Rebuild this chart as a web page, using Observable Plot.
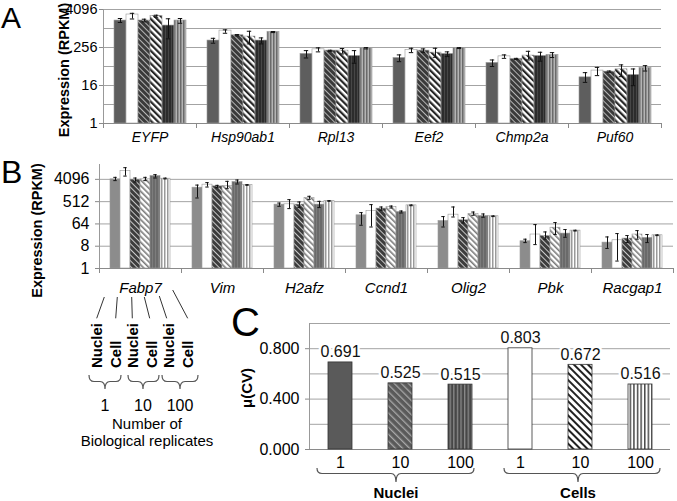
<!DOCTYPE html>
<html><head><meta charset="utf-8">
<script src="https://cdn.jsdelivr.net/npm/d3@7"></script>
<script src="https://cdn.jsdelivr.net/npm/@observablehq/plot@0.6"></script>
<style>
html,body{margin:0;padding:0;background:#fff;}
#fig{position:relative;width:677px;height:501px;overflow:hidden;font-family:"Liberation Sans",Arial,sans-serif;}
#fig > svg{position:absolute;}
</style></head><body><div id="fig"></div>
<script>
// ---------- DATA ----------
const series = ["Nuclei 1", "Cell 1", "Nuclei 10", "Cell 10", "Nuclei 100", "Cell 100"];

// Panel A
const genesA = ["EYFP", "Hsp90ab1", "Rpl13", "Eef2", "Chmp2a", "Puf60"];
const valuesA = [
  [1830, 2840, 1830, 2570, 1270, 1830],
  [425, 879, 626, 568, 425, 798],
  [160, 224, 204, 204, 138, 242],
  [119, 215, 204, 176, 160, 249],
  [83, 134, 111, 142, 138, 149],
  [29, 47.5, 44, 52, 34.5, 57.7]
];
const lowA = [
  [1590, 2050, 1660, 2340, 480, 1500],
  [350, 724, 596, 333, 333, 760],
  [119, 186, 194, 160, 81, 231],
  [91, 176, 181, 125, 132, 237],
  [64, 116, 106, 103, 94, 123],
  [20.1, 32.9, 42, 30.5, 15.8, 46]
];
const highA = [
  [2120, 3100, 2020, 2700, 2080, 2120],
  [501, 929, 657, 837, 515, 820],
  [204, 249, 209, 237, 204, 254],
  [149, 242, 231, 242, 186, 254],
  [103, 149, 116, 194, 181, 176],
  [40.8, 60, 46, 72, 53.4, 68]
];
const ticksA = [1, 16, 256, 4096];
const gridA = [1, 4, 16, 64, 256, 1024, 4096];

// Panel B
const genesB = ["Fabp7", "Vim", "H2afz", "Ccnd1", "Olig2", "Pbk", "Racgap1"];
const valuesB = [
  [4096, 8900, 3980, 4096, 5560, 4360],
  [1885, 2500, 2130, 2200, 3190, 2420],
  [388, 399, 388, 719, 388, 545],
  [143, 214, 267, 311, 194, 362],
  [84, 152, 90, 162, 134, 131],
  [12.7, 23.8, 20.8, 45, 26, 34.3],
  [11.2, 13.9, 16.3, 23.8, 17.3, 22.2]
];
const lowB = [
  [3640, 5560, 3190, 3640, 4640, 4260],
  [720, 2000, 1885, 1720, 2650, 2350],
  [331, 267, 294, 635, 294, 530],
  [56.5, 48, 228, 282, 177, 350],
  [48, 122, 70, 143, 119, 127],
  [11.2, 9.3, 15.4, 23.8, 18.4, 33],
  [6.5, 2, 11.2, 15.4, 11.2, 21.5]
];
const highB = [
  [4940, 12160, 4640, 4940, 6340, 4600],
  [2400, 3020, 2340, 3400, 3850, 2500],
  [449, 617, 495, 843, 526, 560],
  [184, 388, 311, 340, 214, 375],
  [127, 311, 115, 194, 162, 135],
  [15.4, 60, 30.3, 72.5, 37.8, 35.5],
  [19, 26, 21.6, 34.3, 23.8, 23]
];
const ticksB = [1, 8, 64, 512, 4096];

// Panel C
const keysC = ["N1", "N10", "N100", "C1", "C10", "C100"];
const labelsC = ["1", "10", "100", "1", "10", "100"];
const cvC = [0.691, 0.525, 0.515, 0.803, 0.672, 0.516];
const ticksC = [0, 0.4, 0.8];
const gridC = [0, 0.2, 0.4, 0.6, 0.8, 1.0];
const groupsC = ["Nuclei", "Cells"];

// Annotation texts
const legendLabels = ["Nuclei", "Cell", "Nuclei", "Cell", "Nuclei", "Cell"];
const replicateLabels = ["1", "10", "100"];

// ---------- STYLE ----------
const fig = document.getElementById("fig");
const FONT = '"Liberation Sans", Arial, sans-serif';

function pat(id, bg, fg, w, p, angle) {
  return `<pattern id="${id}" patternUnits="userSpaceOnUse" width="${p}" height="${p}" patternTransform="rotate(${angle})">
  <rect width="${p}" height="${p}" fill="${bg}"/><rect width="${w}" height="${p}" fill="${fg}"/></pattern>`;
}
const defs = document.createElementNS("http://www.w3.org/2000/svg", "svg");
defs.setAttribute("width", 0); defs.setAttribute("height", 0);
defs.style.position = "absolute";
defs.innerHTML = `<defs>
${pat("a3", "#3a3a3a", "#b5b5b5", 1, 4, -45)}
${pat("a4", "#ffffff", "#262626", 2.2, 4.5, -45)}
${pat("a5", "#2c2c2c", "#474747", 1, 3, 0)}
${pat("a6", "#b4b4b4", "#6a6a6a", 1.5, 3, 0)}
${pat("b3", "#3c3c3c", "#c8c8c8", 1, 4, -45)}
${pat("b4", "#ffffff", "#7a7a7a", 1.6, 4, -45)}
${pat("b5", "#6a6a6a", "#7d7d7d", 1, 3, 0)}
${pat("b6", "#ffffff", "#9a9a9a", 1.5, 3, 0)}
${pat("c2", "#5a5a5a", "#a8a8a8", 1.3, 5, -45)}
${pat("c3", "#474747", "#8a8a8a", 1.3, 3.6, 0)}
${pat("c5", "#ffffff", "#222222", 2, 5, -45)}
${pat("c6", "#ffffff", "#4a4a4a", 1.5, 3.6, 0)}
</defs>`;
fig.appendChild(defs);

const fillsA = ["#5e5e5e", "#ffffff", "url(#a3)", "url(#a4)", "url(#a5)", "url(#a6)"];
const fillsB = ["#8c8c8c", "#ffffff", "url(#b3)", "url(#b4)", "url(#b5)", "url(#b6)"];
const fillsC = ["#5a5a5a", "url(#c2)", "url(#c3)", "#ffffff", "url(#c5)", "url(#c6)"];

const baseStyle = {fontFamily: FONT, fontSize: "14px", background: "transparent", overflow: "visible", color: "#000"};

function rows(genes, vals, lo, hi, fills) {
  return genes.flatMap((g, gi) => series.map((s, si) => ({
    gene: g, series: s, v: vals[gi][si], lo: lo[gi][si], hi: hi[gi][si], fill: fills[si]
  })));
}

function expressionPlot({genes, data, domain, ticks, grid, width, height, mt, mb, ml, mr, po, tickFont, tickPad, labelFont, labelPad, capInset}) {
  const ph = height - mt - mb;
  return Plot.plot({
    width, height, marginTop: mt, marginBottom: mb, marginLeft: ml, marginRight: mr,
    style: baseStyle,
    fx: {domain: genes, padding: 0, label: null},
    x: {domain: series, paddingInner: 0, paddingOuter: po, axis: null},
    y: {type: "log", base: 2, domain, label: null},
    color: {type: "identity"},
    marks: [
      Plot.gridY({ticks: grid, stroke: "#a3a3a3", strokeOpacity: 1}),
      Plot.frame({anchor: "left", facetAnchor: "left", stroke: "#999"}),
      Plot.barY(data, {fx: "gene", x: "series", y1: 1, y2: "v", fill: "fill", stroke: "#9a9a9a", strokeWidth: 0.6}),
      Plot.ruleX(data, {fx: "gene", x: "series", y1: "lo", y2: "hi", stroke: "#111", strokeWidth: 1}),
      Plot.tickY(data, {fx: "gene", x: "series", y: "lo", insetLeft: capInset, insetRight: capInset, stroke: "#111"}),
      Plot.tickY(data, {fx: "gene", x: "series", y: "hi", insetLeft: capInset, insetRight: capInset, stroke: "#111"}),
      Plot.ruleY([1], {stroke: "#8a8a8a"}),
      Plot.frame({anchor: "left", insetTop: ph, insetBottom: -4, stroke: "#8a8a8a"}),
      Plot.frame({anchor: "right", facetAnchor: "right", insetTop: ph, insetBottom: -4, stroke: "#8a8a8a"}),
      Plot.axisY({ticks, tickFormat: d => String(d), tickSize: 4, tickPadding: tickPad, fontSize: tickFont, label: null, stroke: "#8a8a8a"}),
      Plot.axisFx({anchor: "bottom", tickSize: 0, tickPadding: labelPad, fontSize: labelFont, fontStyle: "italic", label: null})
    ]
  });
}

// Panel A
const svgA = expressionPlot({
  genes: genesA, data: rows(genesA, valuesA, lowA, highA, fillsA), domain: [1, 4096], ticks: ticksA, grid: gridA,
  width: 677, height: 145, mt: 9, mb: 22, ml: 100, mr: 14, po: 0.81, tickFont: 14.5, tickPad: 2,
  labelFont: 14, labelPad: 9, capInset: 3.8
});
svgA.style.left = "0px"; svgA.style.top = "0px";
fig.appendChild(svgA);

// Panel B
const svgB = expressionPlot({
  genes: genesB, data: rows(genesB, valuesB, lowB, highB, fillsB), domain: [1, 16384], ticks: ticksB, grid: ticksB,
  width: 677, height: 148, mt: 14, mb: 30, ml: 97, mr: 3, po: 0.745, tickFont: 16, tickPad: 6,
  labelFont: 15, labelPad: 14, capInset: 3.3
});
svgB.style.left = "0px"; svgB.style.top = "150px";
fig.appendChild(svgB);

// Panel C
const rowsC = keysC.map((k, i) => ({key: k, label: labelsC[i], cv: cvC[i], fill: fillsC[i]}));
const svgC = Plot.plot({
  width: 447, height: 174, marginLeft: 79, marginRight: 7, marginTop: 18, marginBottom: 30,
  style: baseStyle,
  x: {domain: keysC, paddingInner: 0.6, paddingOuter: 0.3, axis: null},
  y: {domain: [0, 1], label: null},
  color: {type: "identity"},
  marks: [
    Plot.gridY({ticks: gridC, stroke: "#a3a3a3", strokeOpacity: 1}),
    Plot.frame({anchor: "left", stroke: "#999"}),
    Plot.ruleY([0], {stroke: "#8a8a8a"}),
    Plot.barY(rowsC, {x: "key", y: "cv", fill: "fill", stroke: "#333", strokeWidth: 0.8}),
    Plot.text(rowsC, {x: "key", y: "cv", text: d => d3.format(".3f")(d.cv), dy: -5, lineAnchor: "bottom",
      fontSize: 16, fill: "#111", stroke: "white", strokeWidth: 5}),
    Plot.axisY({ticks: ticksC, tickFormat: ".3f", tickSize: 4, tickPadding: 6, fontSize: 16, label: null, stroke: "#8a8a8a"}),
    Plot.axisX({tickSize: 0, tickPadding: 7, fontSize: 16, label: null, tickFormat: k => labelsC[keysC.indexOf(k)]})
  ]
});
svgC.style.left = "230px"; svgC.style.top = "305px";
fig.appendChild(svgC);

// ---------- ANNOTATIONS ----------
const ov = d3.select(fig).append("svg")
  .attr("width", 677).attr("height", 501)
  .style("left", "0px").style("top", "0px").style("pointer-events", "none")
  .style("font-family", FONT);

// Panel letters
[["A", 1, 28, 30], ["B", 1, 183, 32], ["C", 231, 336, 40]].forEach(([t, x, y, s]) =>
  ov.append("text").attr("x", x).attr("y", y).attr("font-size", s).text(t));

// Rotated axis titles
function vtext(t, x, y, size, anchor) {
  ov.append("text").attr("transform", `translate(${x},${y}) rotate(-90)`)
    .attr("text-anchor", anchor).attr("font-size", size).attr("font-weight", "bold").text(t);
}
vtext("Expression (RPKM)", 68.5, 70, 14.5, "middle");
vtext("Expression (RPKM)", 42, 230.5, 14.5, "middle");
vtext("μ(CV)", 252, 388, 15, "middle");

// Legend key under Fabp7
const connectors = [[104.3, 297, 96.7, 318.3], [117.3, 297, 115.7, 318.3], [131.7, 297, 132.3, 318.3],
  [144.3, 297, 149.7, 318.3], [159.3, 296, 166.7, 318.3], [172.7, 290, 187.7, 318.3]];
connectors.forEach(([x1, y1, x2, y2]) =>
  ov.append("line").attr("x1", x1).attr("y1", y1).attr("x2", x2).attr("y2", y2).attr("stroke", "#333").attr("stroke-width", 1));
const legendX = [101.7, 120.7, 138, 157, 174, 193];
legendLabels.forEach((t, i) => vtext(t, legendX[i], 368, 15, "start"));

function brace(x1, x2, c, top, mid, tip) {
  const r = 5;
  ov.append("path").attr("fill", "none").attr("stroke", "#555").attr("stroke-width", 1.2)
    .attr("d", `M${x1},${top} Q${x1},${mid} ${x1 + r},${mid} L${c - r},${mid} Q${c},${mid} ${c},${tip} Q${c},${mid} ${c + r},${mid} L${x2 - r},${mid} Q${x2},${mid} ${x2},${top}`);
}
const legendBraces = [[89, 121, 105], [128, 159, 143], [162, 198, 180]];
legendBraces.forEach(([a, b, c], i) => {
  brace(a, b, c, 375, 381.5, 389);
  ov.append("text").attr("x", c).attr("y", 410.5).attr("text-anchor", "middle").attr("font-size", 16).text(replicateLabels[i]);
});
ov.append("text").attr("x", 147).attr("y", 429).attr("text-anchor", "middle").attr("font-size", 15).text("Number of");
ov.append("text").attr("x", 147).attr("y", 446).attr("text-anchor", "middle").attr("font-size", 15).text("Biological replicates");

// Panel C group braces
const cBraces = [[317, 474, 396], [504, 660, 578]];
cBraces.forEach(([a, b, c], i) => {
  brace(a, b, c, 468, 473.5, 482);
  ov.append("text").attr("x", c).attr("y", 498).attr("text-anchor", "middle").attr("font-size", 15)
    .attr("font-weight", "bold").text(groupsC[i]);
});
</script></body></html>
